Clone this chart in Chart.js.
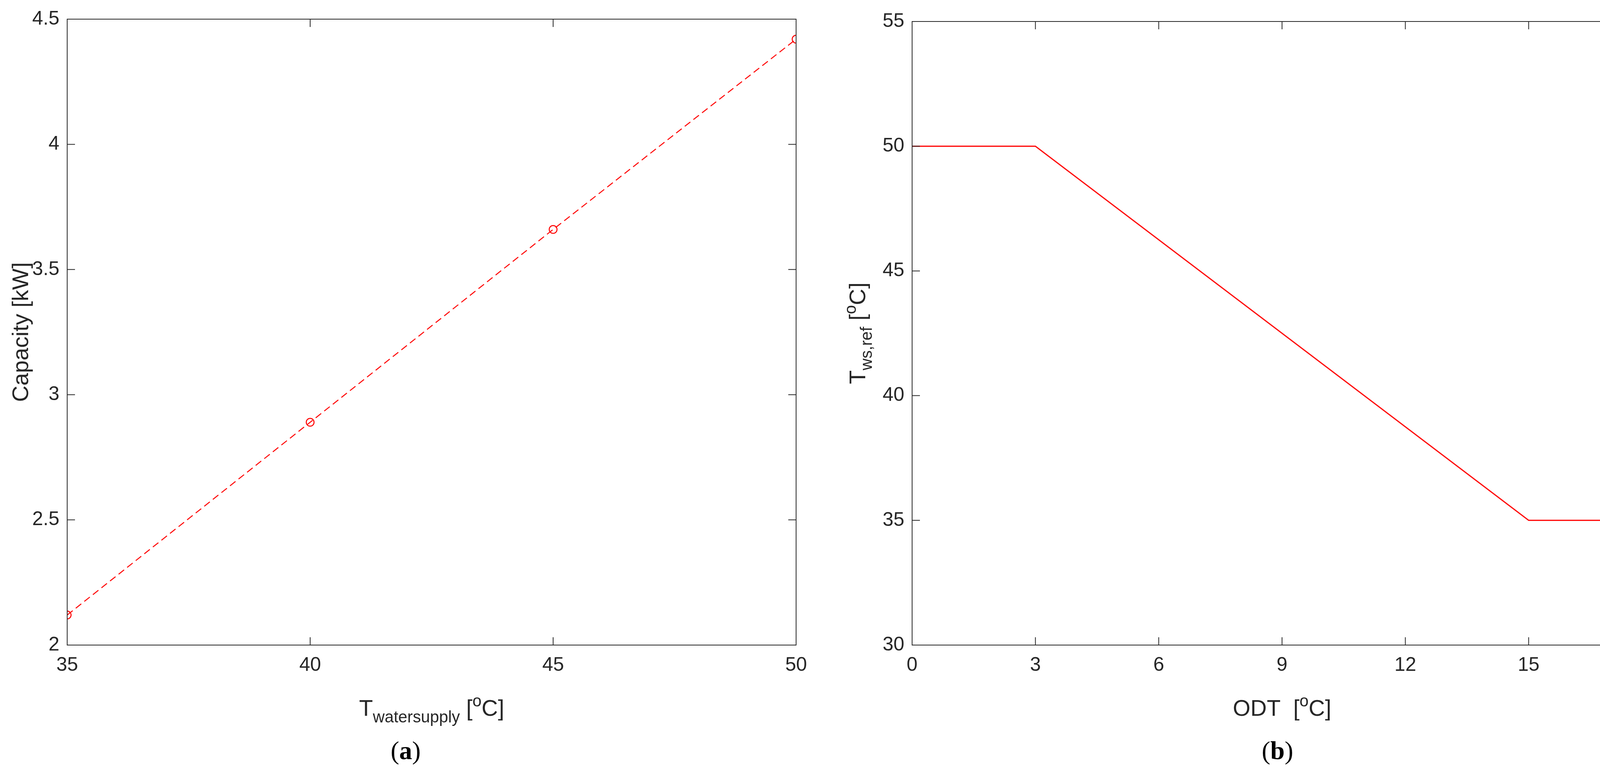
<!DOCTYPE html>
<html lang="en">
<head>
    <meta charset="utf-8">
    <title>Capacity and water supply reference</title>
    <script src="https://cdn.jsdelivr.net/npm/chart.js"></script>
    <style>
        body { margin: 0; background: #fff; width: 4272px; height: 1981px; position: relative; overflow: hidden; }
        .box { position: absolute; top: 0; height: 1981px; }
        .cap { position: absolute; top: 1888px; font: bold 66px "Liberation Serif", "DejaVu Serif", serif; color: #000; line-height: 1; }
        .cap span { font-weight: normal; }
    </style>
</head>
<body>
    <div class="box" style="left:0;width:2100px"><canvas id="chartA"></canvas></div>
    <div class="box" style="left:2163px;width:2109px"><canvas id="chartB"></canvas></div>
    <div class="cap" style="left:1000px"><span>(</span>a<span>)</span></div>
    <div class="cap" style="left:3230px"><span>(</span>b<span>)</span></div>
    <script>
        const supplyTemps = [35, 40, 45, 50];
        const capacity = [2.12, 2.89, 3.66, 4.42];
        const odt = [0, 3, 15, 18];
        const refTemps = [50, 50, 35, 35];

        const FONT = '"Liberation Sans Narrow", "Liberation Sans", Arial, sans-serif';
        const INK = '#262626';
        const TITLE_SIZE = 58;

        // draws the MATLAB style box, inward ticks and the axis titles with sub/superscripts
        function frame(xTitle, yTitle, yTitleX) {
            return {
                id: 'frame',
                afterDraw(chart) {
                    const c = chart.ctx, a = chart.chartArea;
                    c.save();
                    c.strokeStyle = INK;
                    c.lineWidth = 2;
                    c.strokeRect(a.left, a.top, a.right - a.left, a.bottom - a.top);
                    const t = 20;
                    chart.scales.x.ticks.forEach(tk => {
                        const px = chart.scales.x.getPixelForValue(tk.value);
                        c.beginPath();
                        c.moveTo(px, a.bottom); c.lineTo(px, a.bottom - t);
                        c.moveTo(px, a.top); c.lineTo(px, a.top + t);
                        c.stroke();
                    });
                    chart.scales.y.ticks.forEach(tk => {
                        const py = chart.scales.y.getPixelForValue(tk.value);
                        c.beginPath();
                        c.moveTo(a.left, py); c.lineTo(a.left + t, py);
                        c.moveTo(a.right, py); c.lineTo(a.right - t, py);
                        c.stroke();
                    });
                    c.fillStyle = INK;
                    c.textBaseline = 'alphabetic';
                    drawRich(c, xTitle, (a.left + a.right) / 2, 1832);
                    c.translate(yTitleX, (a.top + a.bottom) / 2);
                    c.rotate(-Math.PI / 2);
                    drawRich(c, yTitle, 0, 0);
                    c.restore();
                }
            };
        }

        function drawRich(c, parts, cx, y) {
            const size = TITLE_SIZE;
            const fontOf = p => (p.s ? size * 0.72 : size) + 'px ' + FONT;
            let w = 0;
            parts.forEach(p => { c.font = fontOf(p); w += c.measureText(p.t).width; });
            let x = cx - w / 2;
            c.textAlign = 'left';
            parts.forEach(p => {
                c.font = fontOf(p);
                c.fillText(p.t, x, y + (p.s === 'sub' ? size * 0.3 : p.s === 'sup' ? -size * 0.42 : 0));
                x += c.measureText(p.t).width;
            });
        }

        function axes(xmin, xmax, xstep, ymin, ymax, ystep, yWidth) {
            const tickFont = { family: FONT, size: 50 };
            const fmt = v => String(+v.toFixed(2));
            return {
                x: {
                    type: 'linear', min: xmin, max: xmax,
                    ticks: { stepSize: xstep, color: INK, font: tickFont, padding: 14, callback: fmt },
                    grid: { display: false }, border: { display: false },
                    afterFit: s => { s.height = 330; }
                },
                y: {
                    min: ymin, max: ymax,
                    ticks: { stepSize: ystep, color: INK, font: tickFont, padding: 12, callback: fmt },
                    grid: { display: false }, border: { display: false },
                    afterFit: s => { s.width = yWidth; }
                }
            };
        }

        new Chart(document.getElementById('chartA'), {
            type: 'scatter',
            data: {
                datasets: [{
                    data: supplyTemps.map((x, i) => ({ x: x, y: capacity[i] })),
                    showLine: true,
                    borderColor: '#ff0000',
                    borderWidth: 2.5,
                    borderDash: [18, 10],
                    pointRadius: 10,
                    pointBorderWidth: 2.5,
                    pointBorderColor: '#ff0000',
                    pointBackgroundColor: 'rgba(0,0,0,0)'
                }]
            },
            options: {
                animation: false, responsive: true, maintainAspectRatio: false,
                layout: { padding: { top: 49, right: 62, left: 0, bottom: 0 } },
                plugins: { legend: { display: false }, tooltip: { enabled: false } },
                scales: axes(35, 50, 5, 2, 4.5, 0.5, 172)
            },
            plugins: [frame(
                [{ t: 'T' }, { t: 'watersupply', s: 'sub' }, { t: ' [' }, { t: 'o', s: 'sup' }, { t: 'C]' }],
                [{ t: 'Capacity [kW]' }], 72)]
        });

        new Chart(document.getElementById('chartB'), {
            type: 'scatter',
            data: {
                datasets: [{
                    data: odt.map((x, i) => ({ x: x, y: refTemps[i] })),
                    showLine: true,
                    borderColor: '#ff0000',
                    borderWidth: 3,
                    pointRadius: 0
                }]
            },
            options: {
                animation: false, responsive: true, maintainAspectRatio: false,
                layout: { padding: { top: 55, right: 43, left: 0, bottom: 0 } },
                plugins: { legend: { display: false }, tooltip: { enabled: false } },
                scales: axes(0, 18, 3, 30, 55, 5, 172)
            },
            plugins: [frame(
                [{ t: 'ODT  [' }, { t: 'o', s: 'sup' }, { t: 'C]' }],
                [{ t: 'T' }, { t: 'ws,ref', s: 'sub' }, { t: ' [' }, { t: 'o', s: 'sup' }, { t: 'C]' }], 52)]
        });
    </script>
</body>
</html>
